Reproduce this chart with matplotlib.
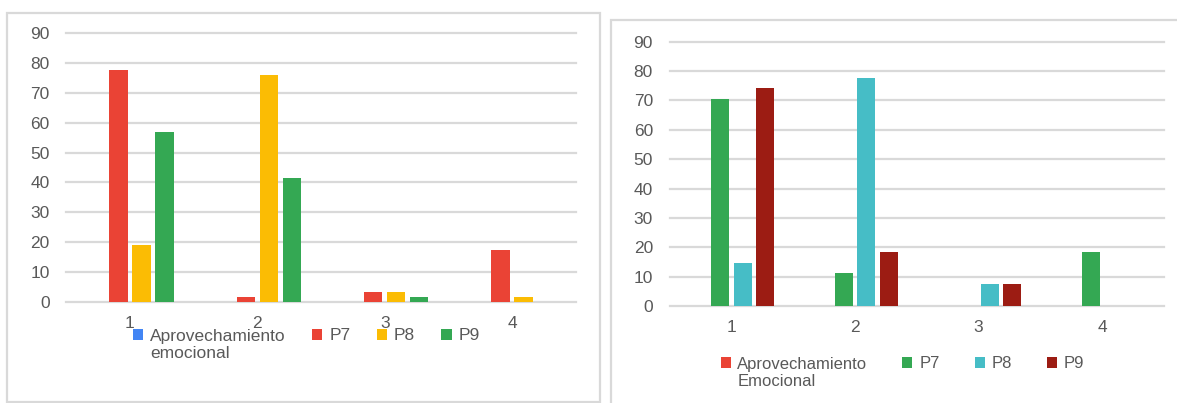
import matplotlib
matplotlib.use("Agg")
import matplotlib.pyplot as plt
from matplotlib.patches import Rectangle

W, H = 1177, 403

categorias = [1, 2, 3, 4]
etiquetas_x = ["1", "2", "3", "4"]
yticks = list(range(0, 100, 10))

# grafico izquierdo (porcentajes)
izq_nombres = ["Aprovechamiento", "P7", "P8", "P9"]
izq_segunda_linea = "emocional"
izq_aprov = [0, 0, 0, 0]
izq_p7 = [77.6, 1.7, 3.4, 17.2]
izq_p8 = [19.0, 75.9, 3.4, 1.7]
izq_p9 = [56.9, 41.4, 1.7, 0]
izq_colores = ["#4285f4", "#ea4335", "#fbbc04", "#34a853"]

# grafico derecho (porcentajes)
der_nombres = ["Aprovechamiento", "P7", "P8", "P9"]
der_segunda_linea = "Emocional"
der_aprov = [0, 0, 0, 0]
der_p7 = [70.4, 11.1, 0, 18.5]
der_p8 = [14.8, 77.8, 7.4, 0]
der_p9 = [74.1, 18.5, 7.4, 0]
der_colores = ["#ea4335", "#34a853", "#46bdc6", "#9c1c13"]

GRIS_TXT = "#595959"
GRIS_LINEA = "#d9d9d9"
plt.rcParams['font.family'] = ['Liberation Sans', 'DejaVu Sans']


def px(x0, y0, x1, y1):
    # pixeles (origen arriba a la izquierda) -> fraccion de figura
    return [x0 / W, 1 - y1 / H, (x1 - x0) / W, (y1 - y0) / H]


def barras(ax, series, colores):
    ancho = 0.145
    paso = 0.181
    handles = []
    for i, (vals, c) in enumerate(zip(series, colores)):
        off = (i - 1.5) * paso
        b = ax.bar([x + off for x in categorias], vals, ancho, color=c, zorder=3)
        handles.append(b)
    ax.set_xlim(0.5, 4.5)
    ax.set_ylim(0, 90)
    ax.set_yticks(yticks)
    ax.set_xticks(categorias)
    ax.set_xticklabels(etiquetas_x)
    ax.tick_params(length=0, labelsize=12.5, colors=GRIS_TXT)
    ax.tick_params(axis='y', pad=12)
    ax.tick_params(axis='x', pad=10)
    ax.yaxis.grid(True, color=GRIS_LINEA, linewidth=1.6, zorder=0)
    for gl in ax.get_ygridlines():
        gl.set_clip_on(False)
    for s in ax.spines.values():
        s.set_visible(False)
    return handles


fig = plt.figure(figsize=(W / 100, H / 100), dpi=100)

# marcos de cada grafico
fig.patches.append(Rectangle((7 / W, 1 - 402 / H), 593 / W, 389 / H,
                             transform=fig.transFigure, fill=False,
                             edgecolor=GRIS_LINEA, linewidth=1.6))
fig.patches.append(Rectangle((611 / W, 1 - 410 / H), 600 / W, 390 / H,
                             transform=fig.transFigure, fill=False,
                             edgecolor=GRIS_LINEA, linewidth=1.6))

ax1 = fig.add_axes(px(66.3, 33.3, 575.7, 301.7))
h1 = barras(ax1, [izq_aprov, izq_p7, izq_p8, izq_p9], izq_colores)

ax2 = fig.add_axes(px(669.6, 41.7, 1164, 306))
h2 = barras(ax2, [der_aprov, der_p7, der_p8, der_p9], der_colores)

leg1 = fig.legend(h1, izq_nombres, loc='center left',
                  bbox_to_anchor=(133 / W, 1 - 336 / H), ncol=4,
                  frameon=False, fontsize=12.5, labelcolor=GRIS_TXT,
                  handlelength=0.6, handleheight=0.6, handletextpad=0.4,
                  columnspacing=1.5, borderpad=0, borderaxespad=0)
leg2 = fig.legend(h2, der_nombres, loc='center left',
                  bbox_to_anchor=(720.7 / W, 1 - 364 / H), ncol=4,
                  frameon=False, fontsize=12, labelcolor=GRIS_TXT,
                  handlelength=0.6, handleheight=0.6, handletextpad=0.4,
                  columnspacing=2.1, borderpad=0, borderaxespad=0)

# segunda linea de la primera etiqueta de cada leyenda
fig.canvas.draw()
for leg, texto, fs in [(leg1, izq_segunda_linea, 12.5), (leg2, der_segunda_linea, 12)]:
    bb = leg.get_texts()[0].get_window_extent()
    fig.text(bb.x0 / W, (bb.y0 - 3) / H, texto, ha='left', va='top',
             fontsize=fs, color=GRIS_TXT)

fig.savefig("out.png", dpi=100)
